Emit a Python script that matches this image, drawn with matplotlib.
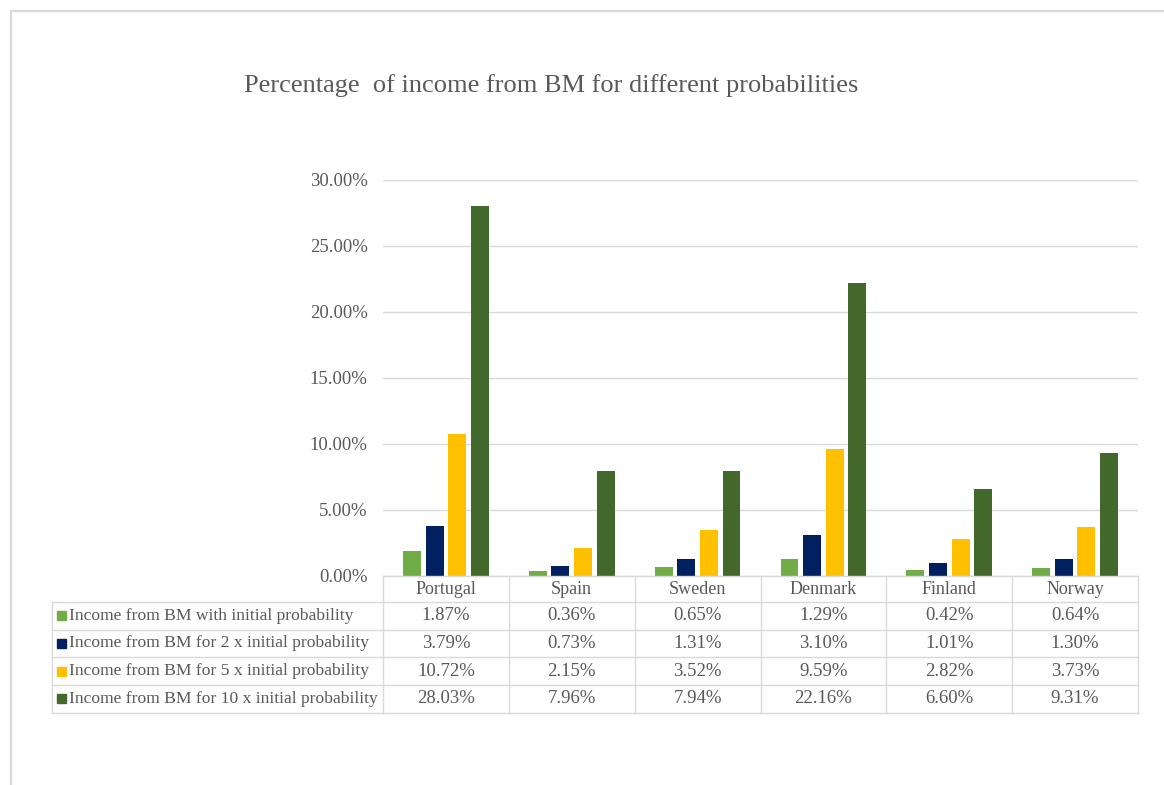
import matplotlib
matplotlib.use("Agg")
import matplotlib.pyplot as plt
import matplotlib.transforms as mtransforms
from matplotlib.patches import Rectangle
from matplotlib.lines import Line2D
import numpy as np

# data
countries = ["Portugal", "Spain", "Sweden", "Denmark", "Finland", "Norway"]
series_names = [
    "Income from BM with initial probability",
    "Income from BM for 2 x initial probability",
    "Income from BM for 5 x initial probability",
    "Income from BM for 10 x initial probability",
]
initial = [1.87, 0.36, 0.65, 1.29, 0.42, 0.64]
times2 = [3.79, 0.73, 1.31, 3.10, 1.01, 1.30]
times5 = [10.72, 2.15, 3.52, 9.59, 2.82, 3.73]
times10 = [28.03, 7.96, 7.94, 22.16, 6.60, 9.31]
series_values = [initial, times2, times5, times10]
colors = ["#70AD47", "#002060", "#FFC000", "#43682B"]
y_ticks = [0, 5, 10, 15, 20, 25, 30]

W, H = 1164, 785
TXT = "#595959"
GRID = "#D9D9D9"
plt.rcParams['font.family'] = ['Liberation Serif', 'DejaVu Serif']

fig = plt.figure(figsize=(W / 100, H / 100), dpi=100)

def fx(px):
    return px / W

def fy(py):
    # pixel row from top -> figure fraction
    return 1 - py / H

# outer chart border (left and top only visible)
fig.add_artist(Line2D([fx(11), fx(11), fx(W)], [fy(H), fy(11), fy(11)],
                      transform=fig.transFigure, color=GRID, lw=1.6))

# plot area
left, right, top, bottom = 383, 1138, 180, 576
ax = fig.add_axes([fx(left), fy(bottom), fx(right - left), (bottom - top) / H])

x = np.arange(len(countries))
bar_w = 0.142
step = 0.18
for i, (vals, c) in enumerate(zip(series_values, colors)):
    ax.bar(x + (i - 1.5) * step, [v / 100 for v in vals], width=bar_w, color=c,
           zorder=3)

ax.set_xlim(-0.5, len(countries) - 0.5)
ax.set_ylim(0, 0.30)
ax.set_yticks([t / 100 for t in y_ticks])
ax.set_yticklabels([f"{t:.2f}%" for t in y_ticks])
ax.tick_params(axis='y', length=0, pad=11, labelsize=13.5, labelcolor=TXT)
ax.set_xticks([])
ax.grid(axis='y', color=GRID, lw=1.0, zorder=0)
for s in ax.spines.values():
    s.set_visible(False)

fig.text(fx(551), fy(86), "Percentage  of income from BM for different probabilities",
         ha='center', va='center', fontsize=19, color=TXT)

# data table below the plot
rows = [576, 602, 629.5, 657, 685, 712.5]
tab_left = 51.5
blend = mtransforms.blended_transform_factory(ax.transData, fig.transFigure)
lkw = dict(color=GRID, lw=1.0)

# header top line (over country columns only)
fig.add_artist(Line2D([fx(left), fx(right)], [fy(rows[0])] * 2,
                      transform=fig.transFigure, **lkw))
# horizontal lines for body rows
for r in rows[1:]:
    fig.add_artist(Line2D([fx(tab_left), fx(right)], [fy(r)] * 2,
                          transform=fig.transFigure, **lkw))
# vertical lines
fig.add_artist(Line2D([fx(tab_left)] * 2, [fy(rows[1]), fy(rows[-1])],
                      transform=fig.transFigure, **lkw))
for k in range(len(countries) + 1):
    fig.add_artist(Line2D([k - 0.5] * 2, [fy(rows[0]), fy(rows[-1])],
                          transform=blend, **lkw))

for i, name in enumerate(countries):
    fig.text(i, fy((rows[0] + rows[1]) / 2), name, transform=blend, fontsize=13,
             color=TXT, ha='center', va='center')

for r, (name, vals, c) in enumerate(zip(series_names, series_values, colors)):
    yc = (rows[r + 1] + rows[r + 2]) / 2
    fig.add_artist(Rectangle((fx(57), fy(yc + 4.5)), fx(9), 9 / H,
                             transform=fig.transFigure, color=c))
    fig.text(fx(69), fy(yc), name, fontsize=12.6, color=TXT, ha='left', va='center')
    for i, v in enumerate(vals):
        fig.text(i, fy(yc), f"{v:.2f}%", transform=blend, fontsize=13.5,
                 color=TXT, ha='center', va='center')

fig.savefig("out.png", dpi=100, facecolor='white')
